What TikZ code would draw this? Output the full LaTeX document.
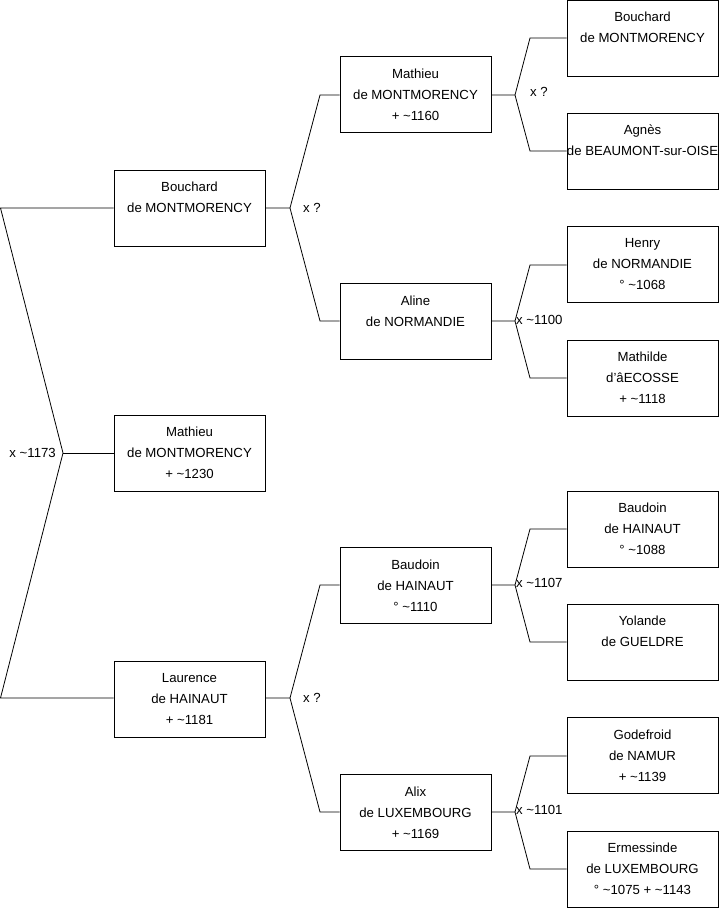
\documentclass[tikz,border=0pt]{standalone}
\usepackage{fontspec}
\setmainfont{Liberation Sans}
\begin{document}
\begin{tikzpicture}[x=1pt,y=-1pt,
  person/.style={draw=black, line width=0.9pt, fill=white, minimum width=151pt, minimum height=76pt, inner sep=0pt, align=center, font=\fontsize{13.2}{21}\selectfont},
  link/.style={draw=black, line width=0.8pt},
  marr/.style={font=\fontsize{13.2}{15}\selectfont, inner sep=1pt}]
\useasboundingbox (0,0) rectangle (719,908);
% level 1
\node[person] (a1) at (189.5,208) {Bouchard\\de MONTMORENCY\\~};
\node[person] (a2) at (189.5,453) {Mathieu\\de MONTMORENCY\\+ \textasciitilde1230};
\node[person] (a3) at (189.5,699) {Laurence\\de HAINAUT\\+ \textasciitilde1181};
% level 2
\node[person] (b1) at (415.5,94.5) {Mathieu\\de MONTMORENCY\\+ \textasciitilde1160};
\node[person] (b2) at (415.5,321.5) {Aline\\de NORMANDIE\\~};
\node[person] (b3) at (415.5,585.5) {Baudoin\\de HAINAUT\\\textdegree{} \textasciitilde1110};
\node[person] (b4) at (415.5,812.5) {Alix\\de LUXEMBOURG\\+ \textasciitilde1169};
% level 3
\node[person] (c1) at (642.5,38) {Bouchard\\de MONTMORENCY\\~};
\node[person] (c2) at (642.5,151) {Agnès\\de BEAUMONT-sur-OISE\\~};
\node[person] (c3) at (642.5,264.5) {Henry\\de NORMANDIE\\\textdegree{} \textasciitilde1068};
\node[person] (c4) at (642.5,378) {Mathilde\\d'âECOSSE\\+ \textasciitilde1118};
\node[person] (c5) at (642.5,529) {Baudoin\\de HAINAUT\\\textdegree{} \textasciitilde1088};
\node[person] (c6) at (642.5,642) {Yolande\\de GUELDRE\\~};
\node[person] (c7) at (642.5,755.5) {Godefroid\\de NAMUR\\+ \textasciitilde1139};
\node[person] (c8) at (642.5,869) {Ermessinde\\de LUXEMBOURG\\\textdegree{} \textasciitilde1075 + \textasciitilde1143};
% level 1 marriage
\coordinate (f0) at (63,453);
\coordinate (f0a) at (0.5,208);
\coordinate (f0b) at (0.5,698);
\draw[link] (a1.west |- f0a) -- (f0a) -- (f0) -- (f0b) -- (a3.west |- f0b);
\draw[link] (f0) -- (a2.west);
\node[marr, anchor=east] (m0) at (57,453) {x \textasciitilde1173};
% level 2 marriages
\coordinate (f1) at (290,208);
\coordinate (f1a) at (320,95);
\coordinate (f1b) at (320,321);
\draw[link] (a1.east) -- (f1) -- (f1a) -- (b1.west |- f1a);
\draw[link] (f1) -- (f1b) -- (b2.west |- f1b);
\node[marr, anchor=west] (m1) at (302,208) {x ?};
\coordinate (f2) at (290,698);
\coordinate (f2a) at (320,585);
\coordinate (f2b) at (320,812);
\draw[link] (a3.east |- f2) -- (f2) -- (f2a) -- (b3.west |- f2a);
\draw[link] (f2) -- (f2b) -- (b4.west |- f2b);
\node[marr, anchor=west] (m2) at (302,698) {x ?};
% level 3 marriages
\coordinate (g1) at (515,95);
\coordinate (g1a) at (530,38);
\coordinate (g1b) at (530,151);
\draw[link] (b1.east |- g1) -- (g1) -- (g1a) -- (c1.west |- g1a);
\draw[link] (g1) -- (g1b) -- (c2.west |- g1b);
\node[marr, anchor=west] (n1) at (529,92) {x ?};
\coordinate (g2) at (515,321);
\coordinate (g2a) at (530,265);
\coordinate (g2b) at (530,378);
\draw[link] (b2.east |- g2) -- (g2) -- (g2a) -- (c3.west |- g2a);
\draw[link] (g2) -- (g2b) -- (c4.west |- g2b);
\node[marr, anchor=west] (n2) at (515,320) {x \textasciitilde1100};
\coordinate (g3) at (515,585);
\coordinate (g3a) at (530,529);
\coordinate (g3b) at (530,642);
\draw[link] (b3.east |- g3) -- (g3) -- (g3a) -- (c5.west |- g3a);
\draw[link] (g3) -- (g3b) -- (c6.west |- g3b);
\node[marr, anchor=west] (n3) at (515,583) {x \textasciitilde1107};
\coordinate (g4) at (515,812);
\coordinate (g4a) at (530,756);
\coordinate (g4b) at (530,869);
\draw[link] (b4.east |- g4) -- (g4) -- (g4a) -- (c7.west |- g4a);
\draw[link] (g4) -- (g4b) -- (c8.west |- g4b);
\node[marr, anchor=west] (n4) at (515,810) {x \textasciitilde1101};
\end{tikzpicture}
\end{document}
